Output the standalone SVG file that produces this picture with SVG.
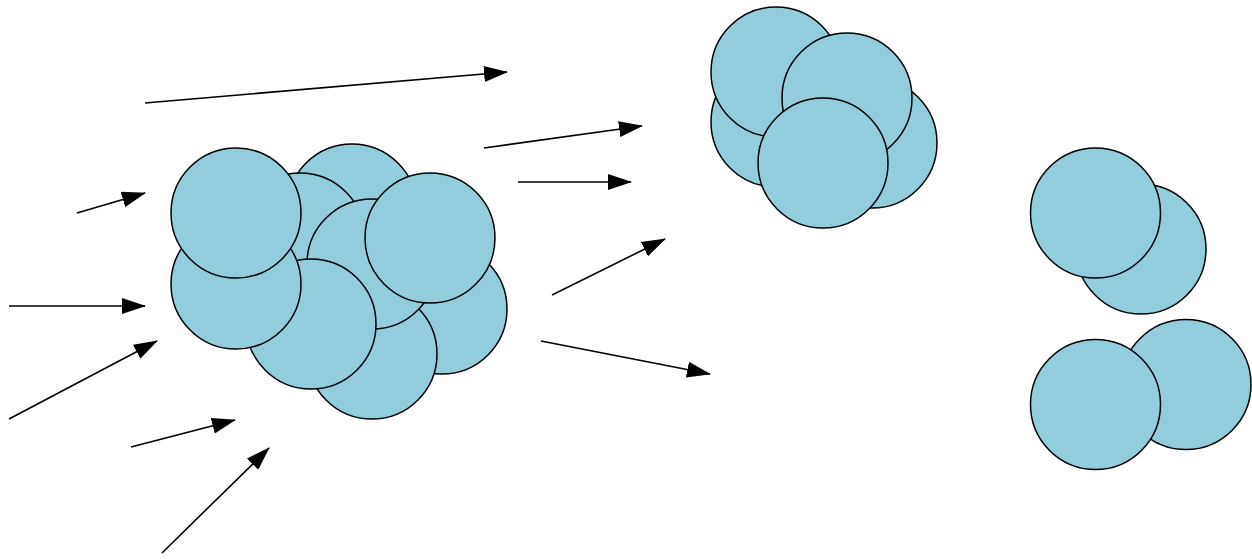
<svg xmlns="http://www.w3.org/2000/svg" width="1252" height="559" viewBox="0 0 1252 559">
<style>
.b{fill:#92CDDB;stroke:#000;stroke-width:1.5}
.a{stroke:#000;stroke-width:1.6;fill:none;marker-end:url(#h)}
</style>
<defs>
<marker id="h" markerUnits="userSpaceOnUse" markerWidth="24" markerHeight="16" refX="23" refY="8" orient="auto" viewBox="0 0 24 16">
<path d="M0,0 L24,8 L0,16 Z" fill="#000"/>
</marker>
</defs>
<rect width="1252" height="559" fill="#fff"/>
<g id="nucleus">
<circle class="b" cx="352" cy="209" r="65"/>
<circle class="b" cx="442" cy="309" r="65"/>
<circle class="b" cx="372" cy="354" r="65"/>
<circle class="b" cx="300" cy="238" r="65"/>
<circle class="b" cx="372" cy="264" r="65"/>
<circle class="b" cx="430" cy="238" r="65"/>
<circle class="b" cx="311" cy="324" r="65"/>
<circle class="b" cx="236" cy="284" r="65"/>
<circle class="b" cx="236" cy="213" r="65"/>
</g>
<g id="fragment1">
<circle class="b" cx="776" cy="122" r="65"/>
<circle class="b" cx="872" cy="143" r="65"/>
<circle class="b" cx="776" cy="72" r="65"/>
<circle class="b" cx="847" cy="98" r="65"/>
<circle class="b" cx="823" cy="163" r="65"/>
</g>
<g id="fragment2">
<circle class="b" cx="1141" cy="249" r="65"/>
<circle class="b" cx="1095.5" cy="213" r="65"/>
</g>
<g id="fragment3">
<circle class="b" cx="1186" cy="384.5" r="65"/>
<circle class="b" cx="1095.5" cy="404.5" r="65"/>
</g>
<g id="connectors">
<line class="a" x1="145" y1="103" x2="507" y2="72"/>
<line class="a" x1="484" y1="148" x2="642" y2="126"/>
<line class="a" x1="518" y1="182" x2="631" y2="182"/>
<line class="a" x1="552" y1="295" x2="665" y2="239"/>
<line class="a" x1="541" y1="341" x2="710" y2="374"/>
<line class="a" x1="77" y1="213" x2="145" y2="193"/>
<line class="a" x1="9" y1="306" x2="145" y2="306"/>
<line class="a" x1="9" y1="419" x2="157" y2="341"/>
<line class="a" x1="131" y1="447" x2="235" y2="420"/>
<line class="a" x1="162" y1="553" x2="269" y2="448"/>
</g>
</svg>
